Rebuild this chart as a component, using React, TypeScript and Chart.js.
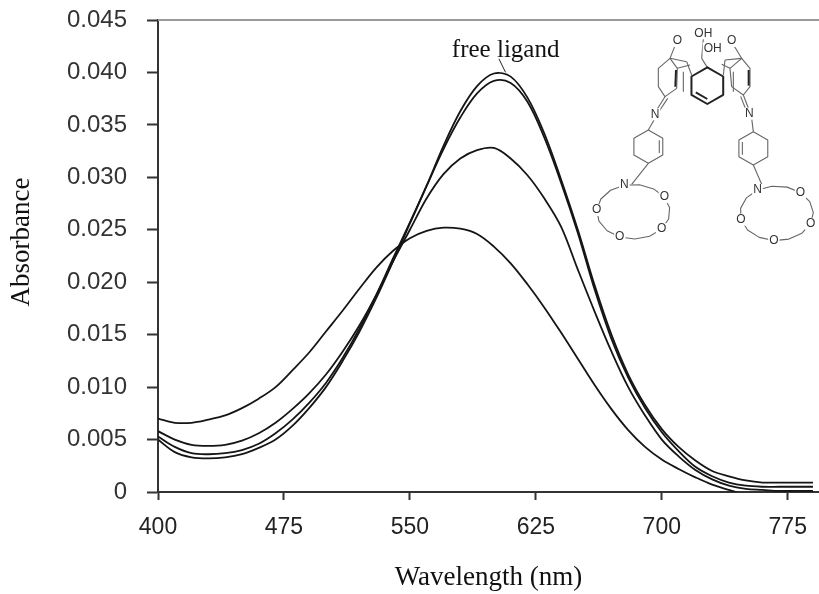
import { useEffect, useRef } from "react";
import { Chart, registerables } from "chart.js";

Chart.register(...registerables);

// wavelength (nm) sampling
const wavelengths = [
  400, 410, 420, 430, 440, 450, 460, 470, 480, 490,
  500, 510, 520, 530, 540, 550, 560, 570, 580, 590,
  600, 610, 620, 630, 640, 650, 660, 670, 680, 690,
  700, 710, 720, 730, 740, 750, 760, 770, 780, 790,
];

// free ligand (highest band)
const freeLigand = [
  0.005, 0.0038, 0.0033, 0.0032, 0.0033, 0.0036, 0.0042, 0.005, 0.0063, 0.008,
  0.01, 0.0125, 0.0153, 0.0185, 0.022, 0.0256, 0.0292, 0.033, 0.0363, 0.0387,
  0.0399, 0.0396, 0.0376, 0.0342, 0.0298, 0.025, 0.0197, 0.015, 0.0112, 0.0083,
  0.006, 0.0043, 0.003, 0.002, 0.0015, 0.0011, 0.0009, 0.0009, 0.0009, 0.0009,
];

// titration steps, decreasing band
const step1 = [
  0.0053, 0.0043, 0.0037, 0.0036, 0.0037, 0.004, 0.0046, 0.0056, 0.0069, 0.0085,
  0.0104, 0.0128, 0.0156, 0.0188, 0.0223, 0.0257, 0.0292, 0.0327, 0.0357, 0.038,
  0.0392, 0.039, 0.0372, 0.0338, 0.0295, 0.0247, 0.0193, 0.0146, 0.0109, 0.008,
  0.0057, 0.0039, 0.0024, 0.0015, 0.0009, 0.0006, 0.0005, 0.0005, 0.0005, 0.0005,
];

const step2 = [
  0.0058, 0.005, 0.0045, 0.0044, 0.0045, 0.0049, 0.0056, 0.0066, 0.0079, 0.0094,
  0.0112, 0.0134, 0.0159, 0.0188, 0.022, 0.025, 0.028, 0.0303, 0.0318, 0.0326,
  0.0328, 0.0318, 0.0302, 0.028, 0.0253, 0.0212, 0.0172, 0.0134, 0.01, 0.0073,
  0.005, 0.0034, 0.0021, 0.0012, 0.0006, 0.0003, 0.0002, 0.0001, 0.0001, 0.0001,
];

const step3 = [
  0.007, 0.0066, 0.0066, 0.0069, 0.0073, 0.008, 0.0089, 0.01, 0.0116, 0.0133,
  0.0153, 0.0173, 0.0194, 0.0214, 0.023, 0.0242, 0.0249, 0.0252, 0.0251, 0.0246,
  0.0234, 0.0218, 0.0198, 0.0176, 0.0152, 0.0127, 0.0102, 0.0079, 0.0059, 0.0043,
  0.0031, 0.0022, 0.0014, 0.0007, 0.0002, -0.0002, -0.0003, -0.0002, -0.0001, 0,
];

const xTicks = [400, 475, 550, 625, 700, 775];
const yTicks = [0, 0.005, 0.01, 0.015, 0.02, 0.025, 0.03, 0.035, 0.04, 0.045];

const xTitle = "Wavelength (nm)";
const yTitle = "Absorbance";
const peakLabel = "free ligand";
const peakLabelAt = { x: 607, y: 0.0421 };
const peakLeader = [
  { x: 603, y: 0.0413 },
  { x: 607, y: 0.04 },
];

const toPoints = (ys: number[]) => wavelengths.map((x, i) => ({ x, y: ys[i] }));

type Pt = [number, number];

// rough sketch of the ligand structure inset (top right), units are 1/3 px from (590, 25)
function drawMolecule(ctx: CanvasRenderingContext2D) {
  const ox = 590;
  const oy = 25;
  const s = 1 / 3;
  const P = (p: Pt): Pt => [ox + p[0] * s, oy + p[1] * s];

  const poly = (pts: Pt[], close = true) => {
    ctx.beginPath();
    pts.forEach((p, i) => {
      const [x, y] = P(p);
      if (i === 0) ctx.moveTo(x, y);
      else ctx.lineTo(x, y);
    });
    if (close) ctx.closePath();
    ctx.stroke();
  };
  const seg = (a: Pt, b: Pt) => poly([a, b], false);
  const hex = (cx: number, cy: number, r: number): Pt[] =>
    [0, 1, 2, 3, 4, 5].map((k) => {
      const a = -Math.PI / 2 + (k * Math.PI) / 3;
      return [cx + r * Math.cos(a), cy + r * Math.sin(a)] as Pt;
    });
  const ring = (cx: number, cy: number, rx: number, ry: number, n: number, a0: number): Pt[] =>
    Array.from({ length: n }, (_, k) => {
      const a = a0 + (k * 2 * Math.PI) / n;
      return [cx + rx * Math.cos(a), cy + ry * Math.sin(a)] as Pt;
    });
  const label = (t: string, p: Pt) => {
    const [x, y] = P(p);
    const w = ctx.measureText(t).width;
    ctx.fillStyle = "#fff";
    ctx.fillRect(x - w / 2 - 1, y - 6, w + 2, 12);
    ctx.fillStyle = "#333";
    ctx.fillText(t, x, y);
  };

  ctx.save();
  ctx.lineJoin = "round";
  ctx.strokeStyle = "#666";
  ctx.lineWidth = 1.1;
  ctx.font = '12px "Liberation Sans"';
  ctx.textAlign = "center";
  ctx.textBaseline = "middle";

  // calixarene upper part
  const leftQ: Pt[] = [[205, 130], [240, 100], [262, 130], [260, 190], [225, 215], [205, 185]];
  const rightQ: Pt[] = [[420, 130], [455, 100], [480, 130], [480, 185], [460, 210], [425, 185]];
  poly(leftQ);
  poly(rightQ);
  seg([240, 100], [255, 62]);
  seg([455, 100], [432, 62]);
  seg([240, 100], [290, 110]);
  seg([290, 110], [305, 150]);
  seg([455, 100], [405, 105]);
  seg([405, 105], [400, 150]);
  seg([262, 130], [300, 120]);
  seg([420, 130], [395, 118]);
  seg([340, 42], [335, 100]);
  seg([335, 100], [352, 127]);
  seg([280, 140], [280, 200]);
  seg([430, 140], [430, 200]);
  // imines
  seg([225, 215], [200, 255]);
  seg([233, 220], [208, 258]);
  seg([460, 210], [476, 252]);
  seg([452, 214], [468, 255]);
  seg([195, 280], [175, 315]);
  seg([485, 280], [490, 320]);
  // phenylene rings
  const lp = hex(175, 365, 50);
  const rp = hex(490, 370, 50);
  poly(lp);
  poly(rp);
  poly(hex(175, 365, 38).slice(1, 3), false);
  poly(hex(490, 370, 38).slice(4, 6), false);
  seg(lp[3], [125, 478]);
  seg(rp[3], [515, 478]);
  // aza-crown rings
  const lc = ring(130, 560, 110, 82, 15, -Math.PI / 2 - 0.25);
  const rc = ring(560, 565, 110, 82, 15, -Math.PI / 2 - 0.55);
  poly(lc);
  poly(rc);

  // bold central aryl ring
  ctx.strokeStyle = "#222";
  ctx.lineWidth = 2;
  poly(hex(352, 182, 55));
  poly(hex(352, 182, 40).slice(3, 5), false);
  seg([258, 135], [256, 185]);
  seg([476, 135], [476, 182]);

  label("OH", [340, 25]);
  label("OH", [368, 70]);
  label("O", [262, 48]);
  label("O", [425, 48]);
  label("N", [195, 268]);
  label("N", [478, 266]);
  [0, 3, 6, 9, 12].forEach((i) => label(i === 0 ? "N" : "O", lc[i]));
  [0, 3, 6, 9, 12].forEach((i) => label(i === 0 ? "N" : "O", rc[i]));
  ctx.restore();
}

// top frame line, rotated y title, the "free ligand" note and the inset
const decorations = {
  id: "decorations",
  afterDraw(chart: Chart) {
    const { ctx, chartArea, scales } = chart;
    const x = scales.x;
    const y = scales.y;
    ctx.save();
    ctx.strokeStyle = "#9a9a9a";
    ctx.lineWidth = 2;
    ctx.beginPath();
    ctx.moveTo(chartArea.left, chartArea.top);
    ctx.lineTo(chartArea.right, chartArea.top);
    ctx.stroke();

    ctx.fillStyle = "#111";
    ctx.font = '27px "Liberation Serif"';
    ctx.textAlign = "center";
    ctx.textBaseline = "middle";
    ctx.translate(22, 242);
    ctx.rotate(-Math.PI / 2);
    ctx.fillText(yTitle, 0, 0);
    ctx.setTransform(1, 0, 0, 1, 0, 0);

    ctx.font = '25px "Liberation Serif"';
    ctx.fillText(peakLabel, x.getPixelForValue(peakLabelAt.x), y.getPixelForValue(peakLabelAt.y));
    ctx.strokeStyle = "#222";
    ctx.lineWidth = 1;
    ctx.beginPath();
    ctx.moveTo(x.getPixelForValue(peakLeader[0].x), y.getPixelForValue(peakLeader[0].y));
    ctx.lineTo(x.getPixelForValue(peakLeader[1].x), y.getPixelForValue(peakLeader[1].y));
    ctx.stroke();
    ctx.restore();

    drawMolecule(ctx);
  },
};

export default function App() {
  const canvasRef = useRef<HTMLCanvasElement | null>(null);

  useEffect(() => {
    const ctx = canvasRef.current?.getContext("2d");
    if (!ctx) return;

    const line = (label: string, ys: number[]) => ({
      label,
      data: toPoints(ys),
      borderColor: "#151515",
      borderWidth: 1.8,
      pointRadius: 0,
      tension: 0.35,
      fill: false,
    });

    const chart = new Chart(ctx, {
      type: "line",
      data: {
        datasets: [
          line("free ligand", freeLigand),
          line("step 1", step1),
          line("step 2", step2),
          line("step 3", step3),
        ],
      },
      options: {
        responsive: false,
        animation: false,
        layout: { padding: { top: 20, right: 0, left: 0, bottom: 0 } },
        plugins: {
          legend: { display: false },
          tooltip: { enabled: false },
        },
        scales: {
          x: {
            type: "linear",
            min: 400,
            max: 793.6,
            afterBuildTicks: (scale: any) => {
              scale.ticks = xTicks.map((value) => ({ value }));
            },
            afterFit: (scale: any) => {
              scale.height = 102;
              scale.paddingLeft = 0;
              scale.paddingRight = 0;
            },
            grid: {
              drawOnChartArea: false,
              drawTicks: true,
              tickLength: 8,
              tickWidth: 2,
              tickColor: "#333",
            },
            border: { display: true, color: "#333", width: 2 },
            ticks: {
              padding: 14,
              maxRotation: 0,
              autoSkip: false,
              color: "#222",
              font: { family: "Liberation Sans", size: 23 },
              callback: (v: any) => String(v),
            },
            title: {
              display: true,
              text: xTitle,
              color: "#111",
              padding: { top: 0, bottom: 0 },
              font: { family: "Liberation Serif", size: 27 },
            },
          },
          y: {
            type: "linear",
            min: 0,
            max: 0.045,
            afterBuildTicks: (scale: any) => {
              scale.ticks = yTicks.map((value) => ({ value }));
            },
            afterFit: (scale: any) => {
              scale.width = 158;
              scale.paddingTop = 0;
              scale.paddingBottom = 0;
            },
            grid: {
              drawOnChartArea: false,
              drawTicks: true,
              tickLength: 11,
              tickWidth: 2,
              tickColor: "#333",
            },
            border: { display: true, color: "#333", width: 2 },
            ticks: {
              padding: 20,
              autoSkip: false,
              color: "#333",
              font: { family: "Liberation Sans", size: 24 },
              callback: (v: any) => (Number(v) === 0 ? "0" : Number(v).toFixed(3)),
            },
          },
        },
      },
      plugins: [decorations],
    });

    return () => {
      chart.destroy();
    };
  }, []);

  return (
    <div style={{ position: "absolute", left: 0, top: 0, width: 819, height: 594, background: "#fff" }}>
      <canvas ref={canvasRef} width={819} height={594} style={{ display: "block" }}></canvas>
    </div>
  );
}
